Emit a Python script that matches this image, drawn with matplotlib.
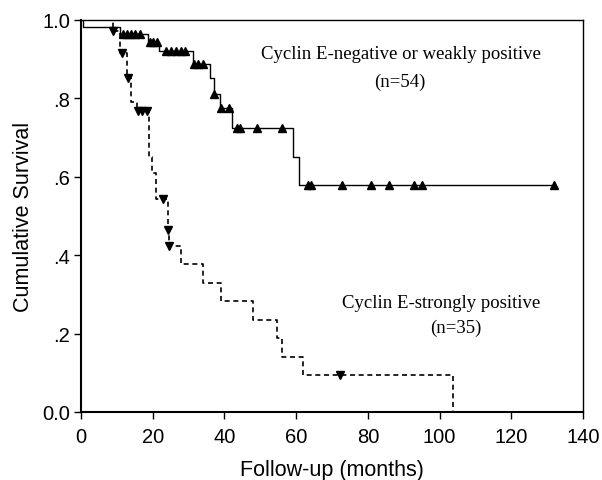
import numpy as np
import matplotlib
matplotlib.use('Agg')
import matplotlib.pyplot as plt

# Kaplan-Meier curves
neg_times = [0, 0.5, 10.9, 18.7, 21.8, 31.2, 36.0, 37.1, 38.8, 42.0, 59.1, 60.8, 131.9]
neg_surv = [1.0, 0.981, 0.963, 0.943, 0.919, 0.887, 0.852, 0.81, 0.775, 0.723, 0.65, 0.578, 0.578]
neg_censored = [11.8, 12.9, 14.0, 15.1, 16.4, 19.2, 20.2, 21.3, 23.8, 25.2, 26.5, 27.8, 29.0,
                31.6, 32.7, 34.0, 37.1, 39.0, 41.3, 43.4, 44.2, 49.2, 56.0, 63.3, 64.1,
                72.8, 80.9, 85.9, 92.9, 95.1, 131.9]

pos_times = [0, 9.0, 10.9, 12.8, 14.0, 15.5, 19.0, 19.8, 21.0, 24.2, 24.6, 28.0, 34.1,
             39.0, 47.9, 54.6, 56.0, 62.0, 103.6]
pos_surv = [1.0, 0.971, 0.914, 0.852, 0.79, 0.767, 0.65, 0.61, 0.542, 0.465, 0.423, 0.376,
            0.329, 0.282, 0.235, 0.188, 0.141, 0.094, 0.0]
pos_censored = [9.0, 11.5, 13.2, 15.8, 17.0, 18.3, 22.9, 24.2, 24.6, 72.2]

x_ticks = [0, 20, 40, 60, 80, 100, 120, 140]
y_ticks = [0.0, 0.2, 0.4, 0.6, 0.8, 1.0]
y_labels = ['0.0', '.2', '.4', '.6', '.8', '1.0']


def level_at(times, surv, t):
    idx = np.searchsorted(times, t, side='right') - 1
    return np.array(surv)[idx]


fig = plt.figure(figsize=(6.02, 4.81), dpi=100)
ax = fig.add_axes([0.1346, 0.1414, 0.8339, 0.8156])

ax.step(neg_times, neg_surv, where='post', color='black', lw=1.0)
ax.plot(neg_censored, level_at(neg_times, neg_surv, neg_censored), linestyle='none',
        marker='^', color='black', markersize=5.5)

ax.step(pos_times, pos_surv, where='post', color='black', lw=1.2, linestyle=(0, (3, 2.2)))
ax.plot(pos_censored, level_at(pos_times, pos_surv, pos_censored), linestyle='none',
        marker='v', color='black', markersize=5.5)

serif = 'Liberation Serif'
ax.text(89.2, 0.913, 'Cyclin E-negative or weakly positive', family=serif,
        fontsize=13.5, ha='center', va='center')
ax.text(89.0, 0.844, '(n=54)', family=serif, fontsize=13.5, ha='center', va='center')
ax.text(100.4, 0.28, 'Cyclin E-strongly positive', family=serif,
        fontsize=13.5, ha='center', va='center')
ax.text(104.5, 0.215, '(n=35)', family=serif, fontsize=13.5, ha='center', va='center')

ax.set_xlim(0, 140)
ax.set_ylim(0, 1.0)
ax.set_xticks(x_ticks)
ax.set_yticks(y_ticks)
ax.set_yticklabels(y_labels)
ax.tick_params(direction='out', length=5, width=1, labelsize=14.5, colors='black', pad=3)
ax.tick_params(axis='x', pad=6)
for lab in ax.get_xticklabels() + ax.get_yticklabels():
    lab.set_family('Liberation Sans')
for s in ax.spines.values():
    s.set_linewidth(1.0)
ax.spines['left'].set_linewidth(1.5)
ax.spines['bottom'].set_linewidth(1.5)

ax.set_xlabel('Follow-up (months)', family='Liberation Sans', fontsize=15.5, labelpad=9)
ax.set_ylabel('Cumulative Survival', family='Liberation Sans', fontsize=15.5, labelpad=6)

fig.savefig('out.png', dpi=100)
